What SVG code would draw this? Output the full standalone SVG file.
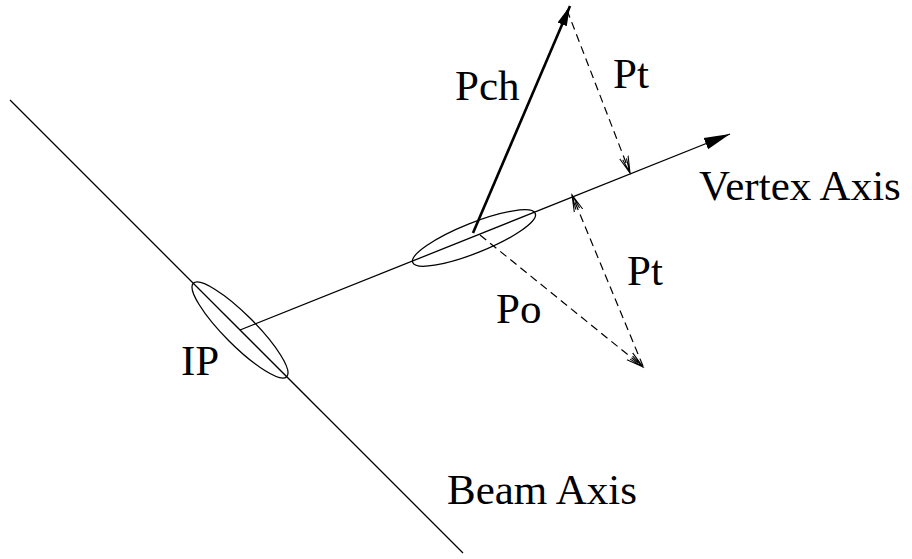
<svg xmlns="http://www.w3.org/2000/svg" width="912" height="559" viewBox="0 0 912 559">
  <style>
    .ln { stroke: #000; stroke-width: 1.3; fill: none; }
    .dash { stroke: #000; stroke-width: 1.2; fill: none; stroke-dasharray: 8 5; }
    .thick { stroke: #000; stroke-width: 2.6; fill: none; }
    .lbl { font-family: "Liberation Serif", "Times New Roman", serif; font-size: 43px; fill: #000; }
  </style>
  <defs>
    <marker id="fillBig" markerUnits="userSpaceOnUse" markerWidth="28" markerHeight="14" refX="26" refY="6" orient="auto" viewBox="0 0 28 12">
      <path d="M0,0 L26,6 L0,12 Z" fill="#000"/>
    </marker>
    <marker id="fillPch" markerUnits="userSpaceOnUse" markerWidth="22" markerHeight="12" refX="20" refY="5" orient="auto" viewBox="0 0 22 10">
      <path d="M0,0 L20,5 L0,10 Z" fill="#000"/>
    </marker>
    <marker id="open" markerUnits="userSpaceOnUse" markerWidth="20" markerHeight="12" refX="17" refY="5" orient="auto" viewBox="0 0 20 10">
      <path d="M0,0.5 L17,5 L0,9.5 M2,3 L17,5 L2,7" fill="none" stroke="#000" stroke-width="1.1"/>
    </marker>
  </defs>

  <g id="beam-axis">
    <line class="ln" x1="10" y1="100" x2="463" y2="553"/>
    <text class="lbl" x="447" y="504">Beam Axis</text>
  </g>

  <g id="ip">
    <ellipse class="ln" cx="240" cy="330" rx="66" ry="15.5" transform="rotate(45 240 330)"/>
    <text class="lbl" x="181" y="375">IP</text>
  </g>

  <g id="vertex">
    <ellipse class="ln" cx="474" cy="238" rx="66" ry="15" transform="rotate(-21.8 474 238)"/>
  </g>

  <g id="connectors">
    <line id="vertex-axis" class="ln" x1="240" y1="330" x2="730" y2="134" marker-end="url(#fillBig)"/>
    <line id="pch" class="thick" x1="473" y1="233" x2="570" y2="6" marker-end="url(#fillPch)"/>
    <line id="pt-upper" class="dash" x1="567" y1="10" x2="630" y2="173" marker-end="url(#open)"/>
    <line id="po" class="dash" x1="480" y1="235" x2="643" y2="367" marker-end="url(#open)"/>
    <line id="pt-lower" class="dash" x1="643" y1="366" x2="572" y2="195" marker-end="url(#open)"/>
  </g>

  <g id="labels">
    <text class="lbl" x="455" y="100">Pch</text>
    <text class="lbl" x="613" y="88">Pt</text>
    <text class="lbl" x="699" y="200">Vertex Axis</text>
    <text class="lbl" x="627" y="285">Pt</text>
    <text class="lbl" x="496" y="323">Po</text>
  </g>
</svg>
